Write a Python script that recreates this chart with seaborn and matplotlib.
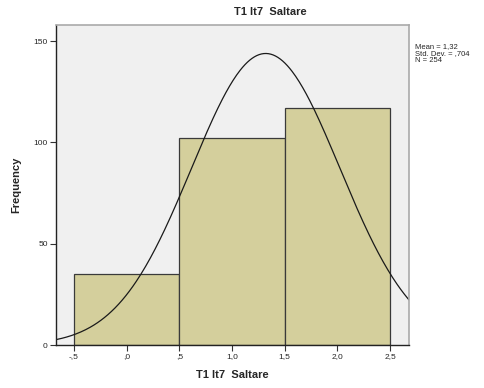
import numpy as np
import pandas as pd
import matplotlib
matplotlib.use("Agg")
import matplotlib.pyplot as plt
import seaborn as sns

# Data
categories = [0, 1, 2]
counts = [35, 102, 117]
bin_edges = [-0.5, 0.5, 1.5, 2.5]
mean_val = 1.32
std_val = 0.704
n_val = 254
xtick_vals = [-0.5, 0.0, 0.5, 1.0, 1.5, 2.0, 2.5]
xtick_labels = ["-,5", ",0", ",5", "1,0", "1,5", "2,0", "2,5"]
ytick_vals = [0, 50, 100, 150]
title = "T1 It7  Saltare"

sns.set_style("white")
plt.rcParams["font.family"] = ["Liberation Sans", "DejaVu Sans"]

fig = plt.figure(figsize=(4.85, 3.88), dpi=100)
ax = fig.add_axes([56/485, 1-345/388, (409-56)/485, (345-25)/388])
ax.set_facecolor("#f0f0f0")

df = pd.DataFrame({"val": categories, "w": counts})
sns.histplot(data=df, x="val", weights="w", bins=bin_edges, ax=ax,
             color="#d4cf9c", alpha=1, edgecolor="#3a3a3a", linewidth=0.9)

xmin, xmax = -0.67, 2.68
xs = np.linspace(xmin, xmax, 300)
binw = 1.0
ys = n_val * binw * np.exp(-0.5 * ((xs - mean_val) / std_val) ** 2) / (std_val * np.sqrt(2 * np.pi))
sns.lineplot(x=xs, y=ys, ax=ax, color="#1a1a1a", linewidth=0.9)

ax.set_xlim(xmin, xmax)
ax.set_ylim(0, 158)
ax.set_xticks(xtick_vals)
ax.set_xticklabels(xtick_labels, fontsize=6)
ax.set_yticks(ytick_vals)
ax.set_yticklabels([str(v) for v in ytick_vals], fontsize=6)
ax.tick_params(axis="both", length=4, width=0.8, color="#333333", pad=2, direction="out",
               bottom=True, left=True)
ax.set_xlabel(title, fontsize=8, fontweight="bold", labelpad=7)
ax.set_ylabel("Frequency", fontsize=8, fontweight="bold", labelpad=9)

for s in ["left", "bottom"]:
    ax.spines[s].set_color("#222222")
    ax.spines[s].set_linewidth(1.0)
for s in ["top", "right"]:
    ax.spines[s].set_color("#aaaaaa")
    ax.spines[s].set_linewidth(1.2)

fig.text(270/485, 1-12/388, title, ha="center", va="center", fontsize=8, fontweight="bold")
fig.text(415/485, 1-43/388,
         f"Mean = 1,32\nStd. Dev. = ,704\nN = {n_val}",
         ha="left", va="top", fontsize=5.5, linespacing=1.0)

fig.savefig("out.png", dpi=100, facecolor="white")
